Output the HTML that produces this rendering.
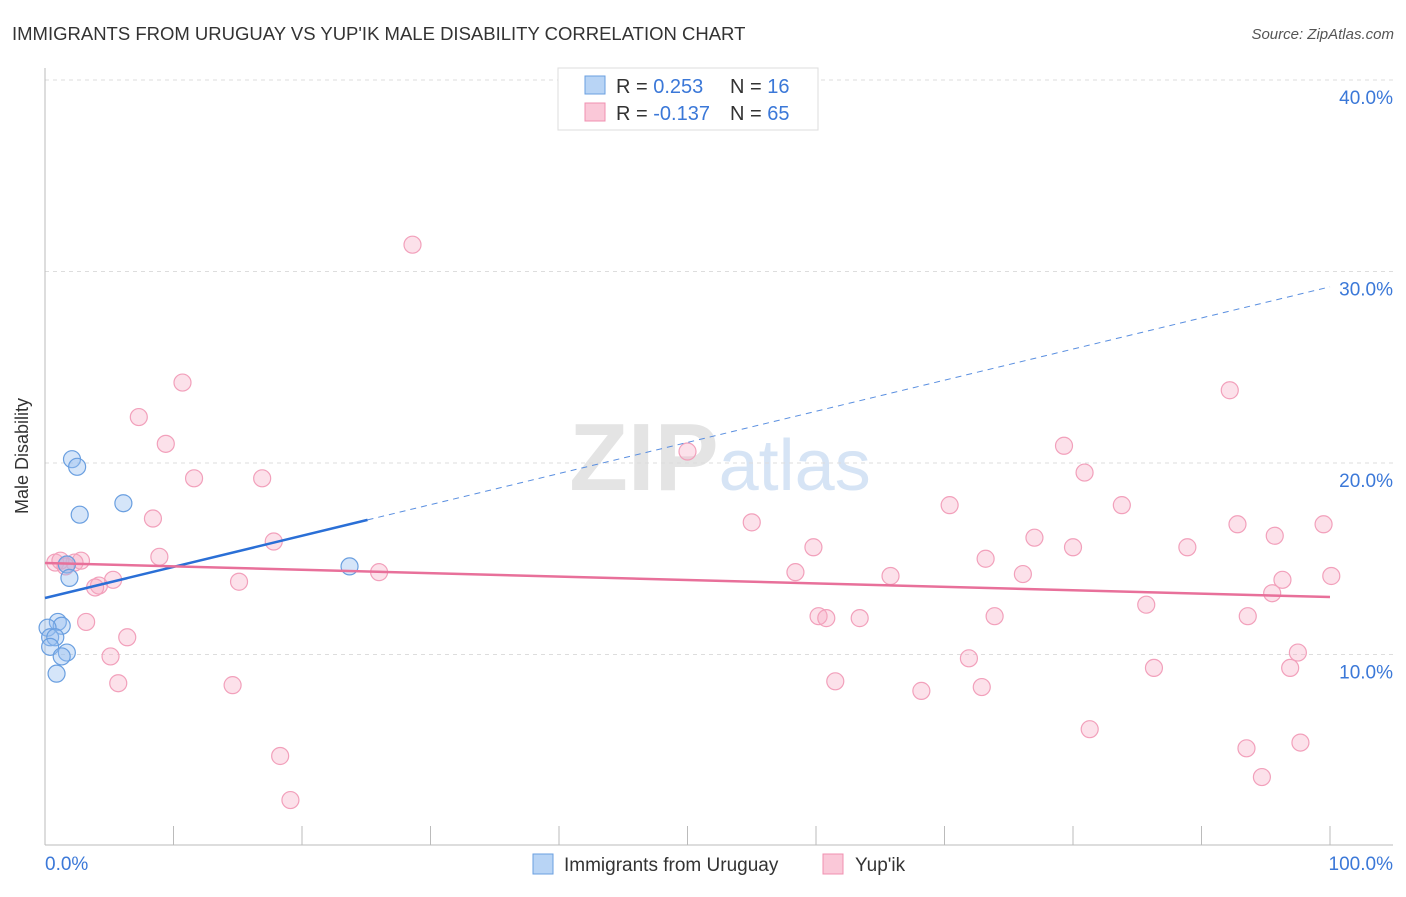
<!DOCTYPE html>
<html><head><meta charset="utf-8"><style>
body{margin:0;background:#fff;font-family:"Liberation Sans",sans-serif;}
svg text{font-family:"Liberation Sans",sans-serif;}
</style></head><body>
<svg width="1406" height="892" xmlns="http://www.w3.org/2000/svg">
<text x="12" y="40" font-size="18.5" fill="#333">IMMIGRANTS FROM URUGUAY VS YUP'IK MALE DISABILITY CORRELATION CHART</text>
<text x="1394" y="39" font-size="15" fill="#555" font-style="italic" text-anchor="end">Source: ZipAtlas.com</text>
<text x="720" y="490" font-size="96" fill="#e4e4e4" text-anchor="middle" font-weight="bold" font-family="Liberation Serif">ZIP<tspan fill="#d6e4f5" font-family="Liberation Sans" font-weight="normal" font-size="72">atlas</tspan></text>
<g id="grid"></g>
<g id="axes"></g>
<g id="pts"></g>
<g id="lines"></g>
<text x="28" y="456" font-size="18" fill="#333" text-anchor="middle" transform="rotate(-90 28 456)">Male Disability</text>
<g>
<rect x="558" y="68" width="260" height="62" fill="#fff" stroke="#ddd"/>
<rect x="585" y="76" width="20" height="18" fill="#b8d4f5" stroke="#6a9fe0"/>
<rect x="585" y="103" width="20" height="18" fill="#fac8d8" stroke="#f090b0"/>
<text x="616" y="93" font-size="20" fill="#333">R = <tspan fill="#3b78d8">0.253</tspan><tspan x="730">N = </tspan><tspan fill="#3b78d8">16</tspan></text>
<text x="616" y="120" font-size="20" fill="#333">R = <tspan fill="#3b78d8">-0.137</tspan><tspan x="730">N = </tspan><tspan fill="#3b78d8">65</tspan></text>
</g>
<g>
<rect x="533" y="854" width="20" height="20" fill="#b8d4f5" stroke="#6a9fe0"/>
<text x="564" y="871" font-size="19" fill="#333">Immigrants from Uruguay</text>
<rect x="823" y="854" width="20" height="20" fill="#fac8d8" stroke="#f090b0"/>
<text x="855" y="871" font-size="19" fill="#333">Yup'ik</text>
</g>
</svg>
<script>
const yTicks=[10,20,30,40];
const xTickLabels=["0.0%","100.0%"];
const blueX=[2.1,2.5,2.7,6.1,1.7,1.9,23.7,1.0,1.3,0.2,0.4,0.8,0.4,1.7,1.3,0.9];
const blueY=[20.2,19.8,17.3,17.9,14.7,14.0,14.6,11.7,11.5,11.4,10.9,10.9,10.4,10.1,9.9,9.0];
const pinkX=[28.6,10.7,7.3,9.4,11.6,16.9,8.4,17.8,8.9,0.8,1.7,2.8,2.3,5.3,4.2,3.9,15.1,26.0,3.2,6.4,5.1,5.7,14.6,18.3,19.1,50.0,55.0,59.8,58.4,60.2,60.8,63.4,61.5,65.8,68.2,70.4,73.2,71.9,72.9,73.9,76.1,77.0,79.3,80.9,80.0,83.8,85.7,86.3,81.3,88.9,92.2,92.8,93.6,93.5,94.7,95.7,96.3,95.5,96.9,97.5,97.7,99.5,100.1,1.2,1.6];
const pinkY=[31.4,24.2,22.4,21.0,19.2,19.2,17.1,15.9,15.1,14.8,14.7,14.9,14.8,13.9,13.6,13.5,13.8,14.3,11.7,10.9,9.9,8.5,8.4,4.7,2.4,20.6,16.9,15.6,14.3,12.0,11.9,11.9,8.6,14.1,8.1,17.8,15.0,9.8,8.3,12.0,14.2,16.1,20.9,19.5,15.6,17.8,12.6,9.3,6.1,15.6,23.8,16.8,12.0,5.1,3.6,16.2,13.9,13.2,9.3,10.1,5.4,16.8,14.1,14.9,14.6];
const blueFit=[12.95,29.2], pinkFit=[14.78,13.0];
const X=v=>45+v*12.85, Y=v=>846-v*19.15;
const NS="http://www.w3.org/2000/svg";
function mk(p,t,a){const e=document.createElementNS(NS,t);for(const k in a)e.setAttribute(k,a[k]);document.getElementById(p).appendChild(e);return e;}
yTicks.forEach(t=>{
const g=mk('grid','line',{x1:45,x2:1393,y1:Y(t),y2:Y(t),stroke:'#ddd','stroke-dasharray':'4,4'});


const l=mk('grid','text',{x:1393,y:Y(t)+24,'font-size':19,fill:'#3b78d8','text-anchor':'end'});
l.textContent=t.toFixed(1)+'%';


});
mk('axes','line',{x1:45,x2:45,y1:68,y2:845,stroke:'#bbb'});
mk('axes','line',{x1:45,x2:1393,y1:845,y2:845,stroke:'#bbb'});
for(let i=1;i<=10;i++){const t=mk('axes','line',{x1:X(i*10),x2:X(i*10),y1:826,y2:845,stroke:'#bbb'});

}
[[0,'start',45],[100,'end',1393]].forEach((d,i)=>{const l=mk('axes','text',{x:d[2],y:870,'font-size':19,fill:'#3b78d8','text-anchor':d[1]});l.textContent=xTickLabels[i];

});
pinkX.forEach((x,i)=>{const c=mk('pts','circle',{cx:X(x),cy:Y(pinkY[i]),r:8.5,fill:'rgba(246,170,195,0.35)',stroke:'#f2a0bb','stroke-width':1.2});

});
blueX.forEach((x,i)=>{const c=mk('pts','circle',{cx:X(x),cy:Y(blueY[i]),r:8.5,fill:'rgba(150,190,240,0.4)',stroke:'#6a9fe0','stroke-width':1.2});

});
const bAt=v=>blueFit[0]+(blueFit[1]-blueFit[0])*v/100;
let e=mk('lines','line',{x1:X(0),y1:Y(bAt(0)),x2:X(25.1),y2:Y(bAt(25.1)),stroke:'#2a6fd6','stroke-width':2.5});


e=mk('lines','line',{x1:X(25.1),y1:Y(bAt(25.1)),x2:X(100),y2:Y(bAt(100)),stroke:'#5a8fe0','stroke-width':1,'stroke-dasharray':'6,5'});


e=mk('lines','line',{x1:X(0),y1:Y(pinkFit[0]),x2:X(100),y2:Y(pinkFit[1]),stroke:'#e8709a','stroke-width':2.5});


</script>
</body></html>
